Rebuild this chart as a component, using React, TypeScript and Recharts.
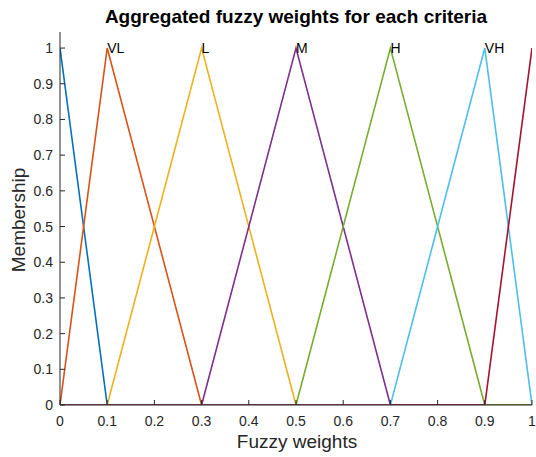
import { ComposedChart, Line, XAxis, YAxis } from 'recharts'

// breakpoints on the x axis
const xs = [0, 0.1, 0.3, 0.5, 0.7, 0.9, 1]

// membership values of each triangle at the breakpoints
const s0 = [1, 0, 0, 0, 0, 0, 0]
const vl = [0, 1, 0, 0, 0, 0, 0]
const lo = [0, 0, 1, 0, 0, 0, 0]
const md = [0, 0, 0, 1, 0, 0, 0]
const hi = [0, 0, 0, 0, 1, 0, 0]
const vh = [0, 0, 0, 0, 0, 1, 0]
const s6 = [0, 0, 0, 0, 0, 0, 1]

const seriesKeys = ['s0', 'vl', 'lo', 'md', 'hi', 'vh', 's6']
const seriesNames = ['', 'VL', 'L', 'M', 'H', 'VH', '']
const seriesColors = ['#0072BD', '#D95319', '#EDB120', '#7E2F8E', '#77AC30', '#4DBEEE', '#A2142F']

const xTicks = [0, 0.1, 0.2, 0.3, 0.4, 0.5, 0.6, 0.7, 0.8, 0.9, 1]
const yTicks = [0, 0.1, 0.2, 0.3, 0.4, 0.5, 0.6, 0.7, 0.8, 0.9, 1]

const data = xs.map((x, i) => ({
  x,
  s0: s0[i],
  vl: vl[i],
  lo: lo[i],
  md: md[i],
  hi: hi[i],
  vh: vh[i],
  s6: s6[i],
}))

const font = 'Arial, "Liberation Sans", Helvetica, sans-serif'
const axisColor = '#262626'

const peakLabel = (name: string) => (props: any) => {
  const { x, y, value } = props
  if (!name || value !== 1) return null
  return (
    <text x={x} y={y} dominantBaseline="central" fontSize={14} fill="#000" fontFamily={font}>
      {name}
    </text>
  )
}

export default function App() {
  return (
    <div style={{ position: 'absolute', left: 0, top: 0, width: 536, height: 457, background: '#fff' }}>
      <ComposedChart
        width={536}
        height={457}
        data={data}
        margin={{ top: 32, right: 4, left: 0, bottom: 0 }}
        style={{ fontFamily: font }}
      >
        <text x={296} y={16} textAnchor="middle" dominantBaseline="central" fontSize={19} fontWeight="bold" fill="#000">
          Aggregated fuzzy weights for each criteria
        </text>
        <text x={297} y={441} textAnchor="middle" dominantBaseline="central" fontSize={19} fill={axisColor}>
          Fuzzy weights
        </text>
        <text
          x={18}
          y={220}
          textAnchor="middle"
          dominantBaseline="central"
          fontSize={19}
          fill={axisColor}
          transform="rotate(-90 18 220)"
        >
          Membership
        </text>
        <XAxis
          dataKey="x"
          type="number"
          domain={[0, 1]}
          ticks={xTicks}
          height={52}
          tickSize={-5}
          tickMargin={16}
          interval={0}
          allowDataOverflow
          stroke={axisColor}
          tick={{ fontSize: 14, fill: axisColor }}
        />
        <XAxis
          xAxisId="top"
          orientation="top"
          dataKey="x"
          type="number"
          domain={[0, 1]}
          ticks={xTicks}
          height={0}
          tickSize={-5}
          tick={false}
          stroke={axisColor}
        />
        <YAxis
          type="number"
          domain={[0, 1.045]}
          ticks={yTicks}
          width={60}
          tickSize={-5}
          tickMargin={12}
          interval={0}
          allowDataOverflow
          stroke={axisColor}
          tick={{ fontSize: 14, fill: axisColor }}
        />
        <YAxis
          yAxisId="right"
          orientation="right"
          type="number"
          domain={[0, 1.045]}
          ticks={yTicks}
          width={0}
          tickSize={-5}
          tick={false}
          stroke={axisColor}
        />
        {seriesKeys.map((k, i) => (
          <Line
            key={k}
            type="linear"
            dataKey={k}
            stroke={seriesColors[i]}
            strokeWidth={1.6}
            dot={false}
            activeDot={false}
            label={peakLabel(seriesNames[i])}
            isAnimationActive={false}
          />
        ))}
      </ComposedChart>
    </div>
  )
}
